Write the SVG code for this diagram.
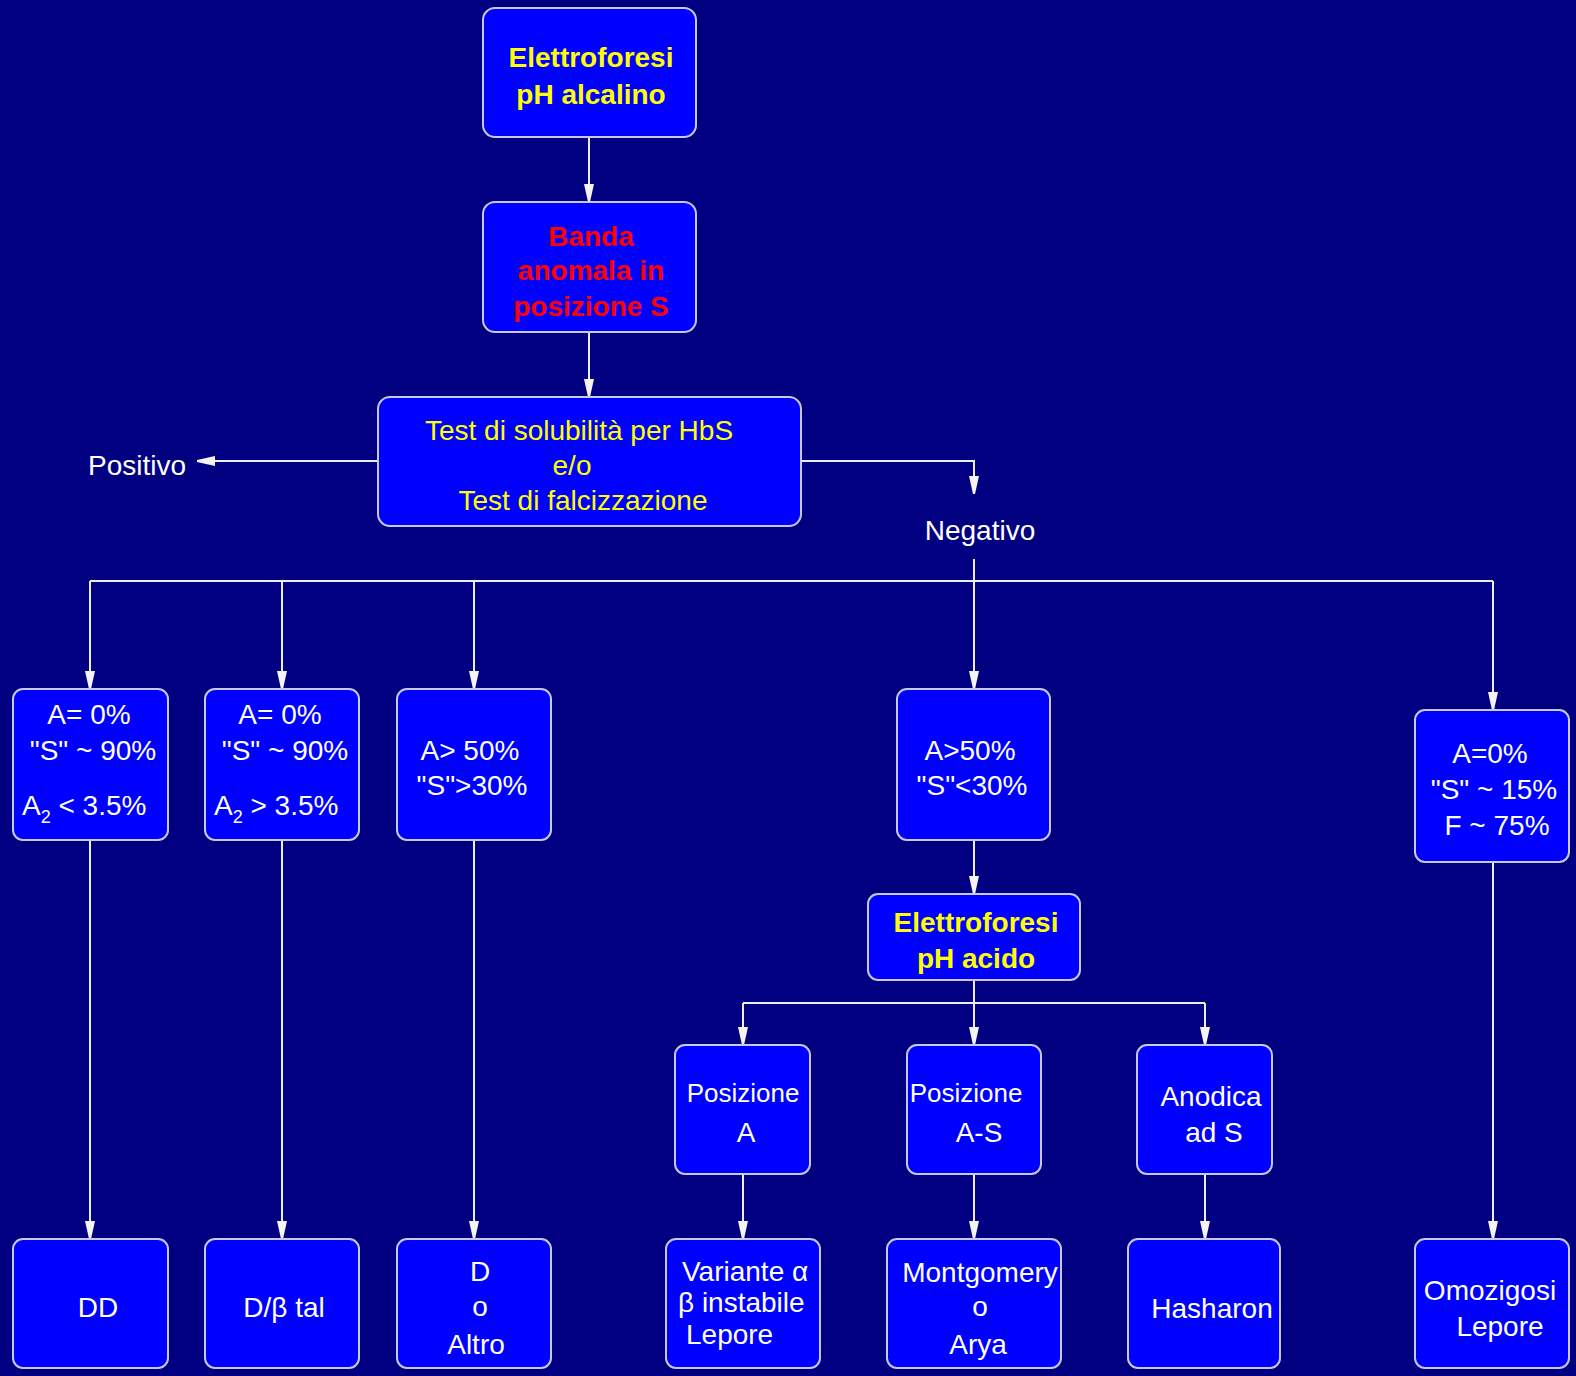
<svg xmlns="http://www.w3.org/2000/svg" width="1576" height="1376" viewBox="0 0 1576 1376">
<defs>
<marker id="ah" markerUnits="userSpaceOnUse" markerWidth="18" markerHeight="12" refX="18" refY="6" orient="auto">
<path d="M0,1 L18,5 L18,7 L0,11 Z" fill="#F4F4F4"/>
</marker>
<style>
.bg{fill:#000080}
.box{fill:#0000FF;stroke:#C8C8EC;stroke-width:2}
.t{font-family:"Liberation Sans",Arial,sans-serif;font-size:28px;fill:#FFFFFF}
.y{fill:#FFFF00}
.r{fill:#FF0000}
.b{font-weight:bold}
.m{text-anchor:middle}
.sm{font-size:26px}
.c{fill:none;stroke:#ECECF4;stroke-width:2}
.ca{fill:none;stroke:#ECECF4;stroke-width:2;marker-end:url(#ah)}
</style>
</defs>
<rect class="bg" x="0" y="0" width="1576" height="1376"/>

<g id="connectors">
<path class="ca" d="M589,137 V202"/>
<path class="ca" d="M589,332 V397"/>
<path class="ca" d="M378,461 H197"/>
<path class="ca" d="M801,461 H974 V494"/>
<path class="ca" d="M974,559 V689"/>
<path class="c" d="M90,581 H1493"/>
<path class="ca" d="M90,581 V689"/>
<path class="ca" d="M282,581 V689"/>
<path class="ca" d="M474,581 V689"/>
<path class="ca" d="M1493,581 V710"/>
<path class="ca" d="M974,840 V894"/>
<path class="c" d="M974,980 V1003 M743,1003 H1205"/>
<path class="ca" d="M743,1003 V1045"/>
<path class="ca" d="M974,1003 V1045"/>
<path class="ca" d="M1205,1003 V1045"/>
<path class="ca" d="M90,840 V1239"/>
<path class="ca" d="M282,840 V1239"/>
<path class="ca" d="M474,840 V1239"/>
<path class="ca" d="M1493,862 V1239"/>
<path class="ca" d="M743,1174 V1239"/>
<path class="ca" d="M974,1174 V1239"/>
<path class="ca" d="M1205,1174 V1239"/>
</g>

<g id="n-elettroforesi-alcalino">
<rect class="box" x="483" y="8" width="213" height="129" rx="12"/>
<text class="t y b m" x="591" y="67">Elettroforesi</text>
<text class="t y b m" x="591" y="104">pH alcalino</text>
</g>

<g id="n-banda">
<rect class="box" x="483" y="202" width="213" height="130" rx="12"/>
<text class="t r b m" x="591" y="246">Banda</text>
<text class="t r b m" x="591" y="280">anomala in</text>
<text class="t r b m" x="591" y="316">posizione S</text>
</g>

<g id="n-test">
<rect class="box" x="378" y="397" width="423" height="129" rx="12"/>
<text class="t y m" x="579" y="440">Test di solubilità per HbS</text>
<text class="t y m" x="572" y="475">e/o</text>
<text class="t y m" x="583" y="510">Test di falcizzazione</text>
</g>

<g id="n-positivo">
<text class="t" x="88" y="475">Positivo</text>
</g>

<g id="n-negativo">
<text class="t m" x="980" y="540">Negativo</text>
</g>

<g id="n-a0-lt">
<rect class="box" x="13" y="689" width="155" height="151" rx="10"/>
<text class="t m" x="89" y="724">A= 0%</text>
<text class="t m" x="93" y="760">"S" ~ 90%</text>
<text class="t" x="22" y="815">A<tspan font-size="18" dy="8">2</tspan><tspan dy="-8"> &lt; 3.5%</tspan></text>
</g>

<g id="n-a0-gt">
<rect class="box" x="205" y="689" width="154" height="151" rx="10"/>
<text class="t m" x="280" y="724">A= 0%</text>
<text class="t m" x="285" y="760">"S" ~ 90%</text>
<text class="t" x="214" y="815">A<tspan font-size="18" dy="8">2</tspan><tspan dy="-8"> &gt; 3.5%</tspan></text>
</g>

<g id="n-a50-s30">
<rect class="box" x="397" y="689" width="154" height="151" rx="10"/>
<text class="t m" x="470" y="760">A&gt; 50%</text>
<text class="t m" x="472" y="795">"S"&gt;30%</text>
</g>

<g id="n-a50-slt30">
<rect class="box" x="897" y="689" width="153" height="151" rx="10"/>
<text class="t m" x="970" y="760">A&gt;50%</text>
<text class="t m" x="972" y="795">"S"&lt;30%</text>
</g>

<g id="n-a0-s15">
<rect class="box" x="1415" y="710" width="154" height="152" rx="10"/>
<text class="t m" x="1490" y="763">A=0%</text>
<text class="t m" x="1494" y="799">"S" ~ 15%</text>
<text class="t m" x="1497" y="835">F ~ 75%</text>
</g>

<g id="n-elettroforesi-acido">
<rect class="box" x="868" y="894" width="212" height="86" rx="10"/>
<text class="t y b m" x="976" y="932">Elettroforesi</text>
<text class="t y b m" x="976" y="968">pH acido</text>
</g>

<g id="n-pos-a">
<rect class="box" x="675" y="1045" width="135" height="129" rx="10"/>
<text class="t sm m" x="743" y="1102">Posizione</text>
<text class="t m" x="746" y="1142">A</text>
</g>

<g id="n-pos-as">
<rect class="box" x="907" y="1045" width="134" height="129" rx="10"/>
<text class="t sm m" x="966" y="1102">Posizione</text>
<text class="t m" x="979" y="1142">A-S</text>
</g>

<g id="n-anodica">
<rect class="box" x="1137" y="1045" width="135" height="129" rx="10"/>
<text class="t m" x="1211" y="1106">Anodica</text>
<text class="t m" x="1214" y="1142">ad S</text>
</g>

<g id="n-dd">
<rect class="box" x="13" y="1239" width="155" height="129" rx="10"/>
<text class="t m" x="98" y="1317">DD</text>
</g>

<g id="n-dbtal">
<rect class="box" x="205" y="1239" width="154" height="129" rx="10"/>
<text class="t m" x="284" y="1317">D/β tal</text>
</g>

<g id="n-d-altro">
<rect class="box" x="397" y="1239" width="154" height="129" rx="10"/>
<text class="t m" x="480" y="1281">D</text>
<text class="t m" x="480" y="1316">o</text>
<text class="t m" x="476" y="1354">Altro</text>
</g>

<g id="n-variante">
<rect class="box" x="666" y="1239" width="154" height="129" rx="10"/>
<text class="t" x="682" y="1281">Variante α</text>
<text class="t" x="678" y="1312">β instabile</text>
<text class="t" x="686" y="1344">Lepore</text>
</g>

<g id="n-montgomery">
<rect class="box" x="887" y="1239" width="174" height="129" rx="10"/>
<text class="t m" x="980" y="1282">Montgomery</text>
<text class="t m" x="980" y="1316">o</text>
<text class="t m" x="978" y="1354">Arya</text>
</g>

<g id="n-hasharon">
<rect class="box" x="1128" y="1239" width="152" height="129" rx="10"/>
<text class="t m" x="1212" y="1318">Hasharon</text>
</g>

<g id="n-omozigosi">
<rect class="box" x="1415" y="1239" width="154" height="129" rx="10"/>
<text class="t m" x="1490" y="1300">Omozigosi</text>
<text class="t m" x="1500" y="1336">Lepore</text>
</g>
</svg>
